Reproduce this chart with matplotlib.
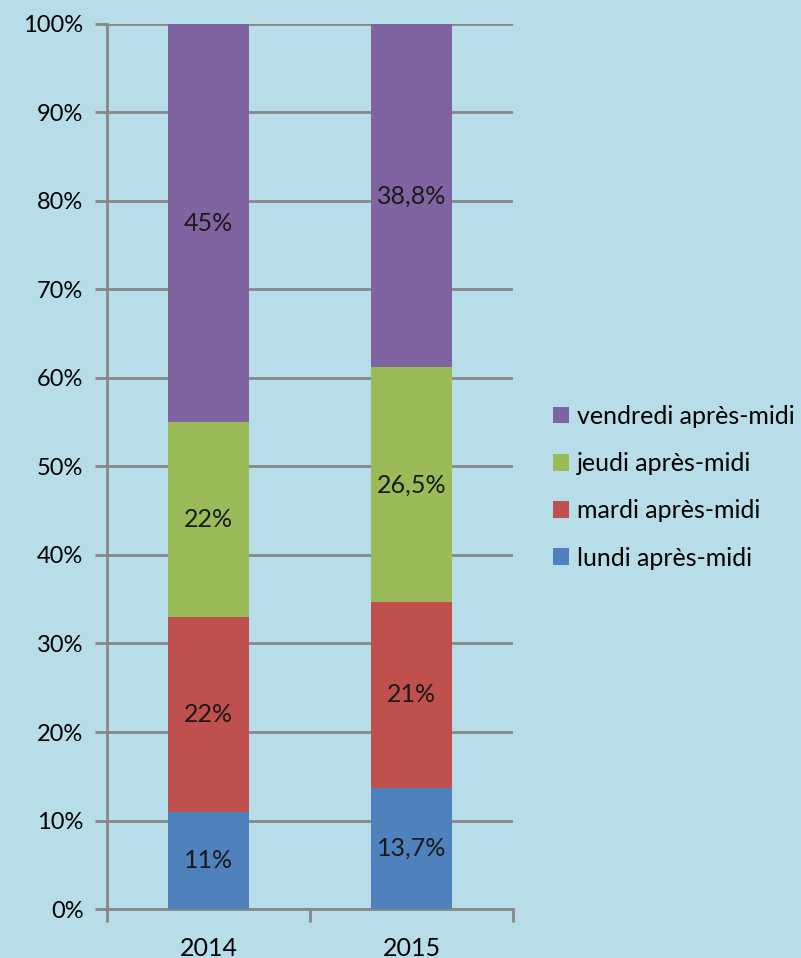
import numpy as np
import matplotlib
matplotlib.use("Agg")
import matplotlib.pyplot as plt

plt.rcParams['font.family'] = ['Lato', 'DejaVu Sans']

annees = ['2014', '2015']
series = ['lundi après-midi', 'mardi après-midi', 'jeudi après-midi', 'vendredi après-midi']
lundi = [11, 13.7]
mardi = [22, 21]
jeudi = [22, 26.5]
vendredi = [45, 38.8]
etiquettes = [['11%', '13,7%'], ['22%', '21%'], ['22%', '26,5%'], ['45%', '38,8%']]
couleurs = ['#4F81BD', '#C0504D', '#9BBB59', '#8064A2']

fond = '#B7DDE8'
gris = '#878787'
taille = 18

fig = plt.figure(figsize=(8.01, 9.58), dpi=100, facecolor=fond)
ax = fig.add_axes([0.1336, 0.0511, 0.507, 0.924])
ax.set_facecolor(fond)

x = np.arange(len(annees))
bas = np.zeros(len(annees))
for vals, nom, coul, etiq in zip([lundi, mardi, jeudi, vendredi], series, couleurs, etiquettes):
    ax.bar(x, vals, 0.4, bottom=bas, color=coul, label=nom, zorder=3)
    for xi, v, y0, t in zip(x, vals, bas, etiq):
        ax.text(xi, y0 + v / 2, t, ha='center', va='center', fontsize=taille, color='#1a1a1a', zorder=4)
    bas = bas + np.array(vals)

ax.set_xlim(-0.5, 1.5)
ax.set_ylim(0, 100)
ax.set_yticks(np.arange(0, 101, 10))
ax.set_yticklabels([f'{v}%' for v in range(0, 101, 10)], fontsize=17)
ax.set_xticks(x)
ax.set_xticklabels(annees, fontsize=taille)
ax.set_xticks([-0.5, 0.5, 1.5], minor=True)
ax.tick_params(axis='x', which='major', length=0, pad=20)
ax.tick_params(axis='x', which='minor', length=9, width=2, color=gris, direction='out')
ax.tick_params(axis='y', length=9, width=2, color=gris, direction='out', pad=8)

ax.grid(axis='y', color=gris, linewidth=2, zorder=0)
for cote in ['top', 'right']:
    ax.spines[cote].set_visible(False)
for cote in ['left', 'bottom']:
    ax.spines[cote].set_color(gris)
    ax.spines[cote].set_linewidth(2)

poignees, noms = ax.get_legend_handles_labels()
fig.legend(poignees[::-1], noms[::-1], loc='center left', bbox_to_anchor=(0.678, 0.4915),
           frameon=False, fontsize=taille, handlelength=0.65, handleheight=0.65,
           handletextpad=0.3, labelspacing=0.97, borderaxespad=0)

fig.savefig('out.png', dpi=100, facecolor=fond)
